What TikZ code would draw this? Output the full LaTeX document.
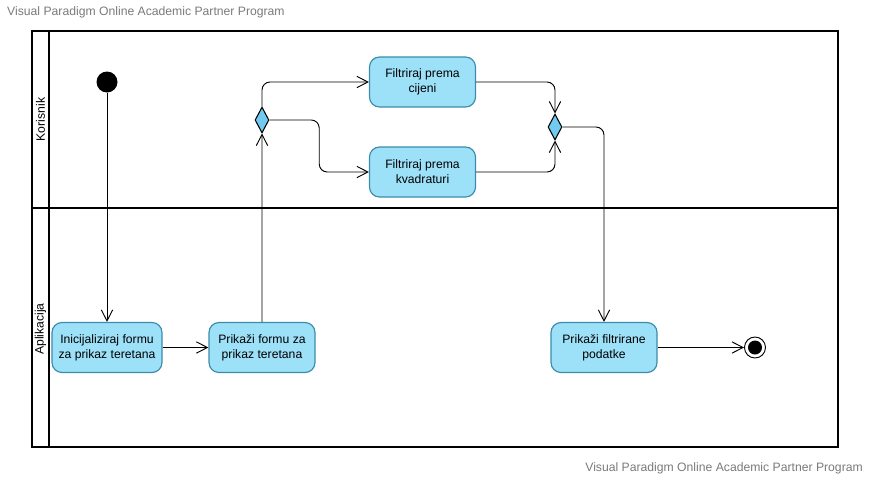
\documentclass[tikz,border=0pt]{standalone}
\usepackage{fontspec}
\setmainfont{Liberation Sans}
\usetikzlibrary{positioning}
\usetikzlibrary{calc}
\usetikzlibrary{shapes.geometric}
\usetikzlibrary{arrows.meta}
\newcommand{\drawcolor}{black}
\newcommand{\bgcolor}{white}
\definecolor{actionfill}{HTML}{9DE1F9}
\definecolor{actionborder}{HTML}{3B8CAA}
\definecolor{decisionfill}{HTML}{72CAF0}
\definecolor{watermark}{HTML}{7A7A7A}
\tikzstyle{action}=[\drawcolor, align=center, solid, draw=actionborder, line width=1pt, rounded corners=3mm, minimum height=15mm, minimum width=31.8mm, fill=actionfill, font=\fontsize{10.4}{12.6}\selectfont]
\tikzstyle{decision}=[diamond, draw=\drawcolor, line width=0.9pt, fill=decisionfill, minimum width=4.2mm, minimum height=7.8mm, inner sep=0pt]
\tikzstyle{startnode}=[circle, fill=\drawcolor, minimum size=6.3mm, inner sep=0pt]
\tikzstyle{endnode}=[circle, draw=\drawcolor, line width=0.8pt, fill=\bgcolor, minimum size=6.3mm, inner sep=0pt, path picture={\fill[\drawcolor] (path picture bounding box.center) circle (2.1mm);}]
\tikzstyle{flow}=[\drawcolor, -{Straight Barb[length=3.3mm, width=3.4mm]}, line width=0.8pt, rounded corners=2.4mm]
\tikzstyle{lane}=[\drawcolor, line width=1.6pt]
\tikzstyle{lanelabel}=[\drawcolor, rotate=90, font=\fontsize{10.4}{12.6}\selectfont]
\tikzstyle{watermarktext}=[text=watermark, inner sep=0pt, font=\fontsize{10.4}{12.6}\selectfont]

\begin{document}
\begin{tikzpicture}
    \useasboundingbox (0, 0) rectangle (26.07, -14.34);

    % Pool
    \coordinate (poolNW) at (0.96, -0.93);
    \coordinate (poolSE) at (25.14, -13.41);
    \draw[lane] (poolNW) rectangle (poolSE);
    \draw[lane] ($(poolNW) + (0.51, 0)$) -- ($(poolNW |- poolSE) + (0.51, 0)$);
    \draw[lane] ($(poolNW) + (0, -5.31)$) -- ($(poolSE |- poolNW) + (0, -5.31)$);

    \node[lanelabel] at (1.215, -3.585) (korisnik) {Korisnik};
    \node[lanelabel] at (1.215, -9.87) (aplikacija) {Aplikacija};

    \node[watermarktext, anchor=west] at (0.21, -0.36) (markTop) {Visual Paradigm Online Academic Partner Program};
    \node[watermarktext, anchor=east] at (25.89, -14.04) (markBottom) {Visual Paradigm Online Academic Partner Program};

    % Nodes
    \node[startnode] at (3.21, -2.46) (start) {};

    \node[action, minimum width=33mm] at (3.21, -10.425) (inicijaliziraj) {Inicijaliziraj formu\\za prikaz teretana};

    \node[action] at ($(inicijaliziraj) + (4.65, 0)$) (prikaziFormu) {Prikaži formu za\\prikaz teretana};

    \node[decision] at (7.86, -3.6) (decision) {};

    \node[action] at (12.675, -2.46) (cijeni) {Filtriraj prema\\cijeni};

    \node[action] at ($(cijeni) + (0, -2.7)$) (kvadraturi) {Filtriraj prema\\kvadraturi};

    \node[decision] at (16.65, -3.81) (merge) {};

    \node[action] at ($(prikaziFormu) + (10.26, 0)$) (prikaziFiltrirane) {Prikaži filtrirane\\podatke};

    \node[endnode] at ($(prikaziFiltrirane) + (4.53, 0)$) (final) {};

    % Arrows
    \draw[flow] (start.south) -- (inicijaliziraj.north);
    \draw[flow] (inicijaliziraj.east) -- (prikaziFormu.west);
    \draw[flow] (prikaziFormu.north) -- (decision.south);
    \draw[flow] (decision.north) |- (cijeni.west);
    \draw[flow] (decision.east) -| ($(decision.east)!0.5!(kvadraturi.west)$) |- (kvadraturi.west);
    \draw[flow] (cijeni.east) -| (merge.north);
    \draw[flow] (kvadraturi.east) -| (merge.south);
    \draw[flow] (merge.east) -| (prikaziFiltrirane.north);
    \draw[flow] (prikaziFiltrirane.east) -- (final.west);

\end{tikzpicture}
\end{document}
